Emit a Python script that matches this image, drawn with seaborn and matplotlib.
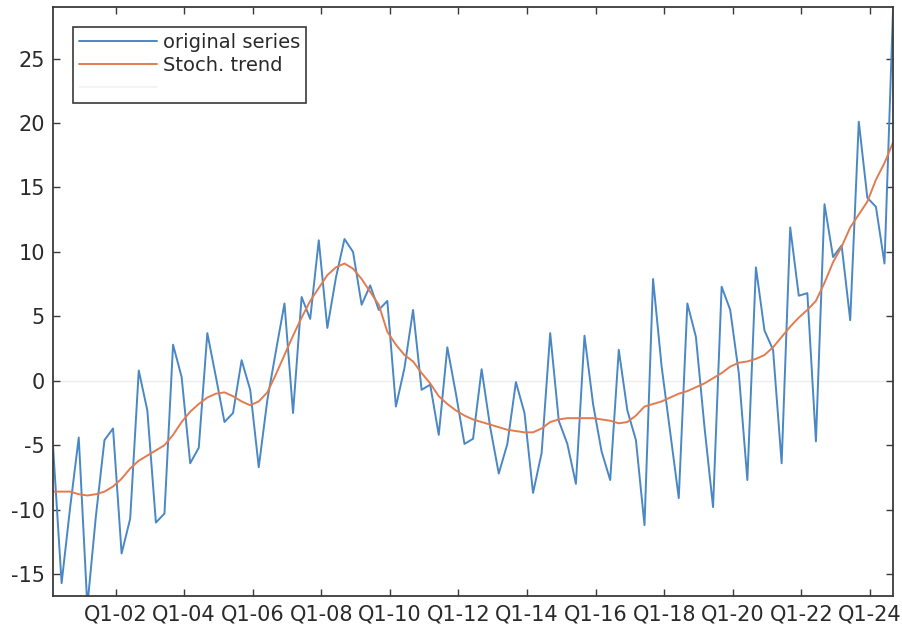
import numpy as np
import pandas as pd
import matplotlib
matplotlib.use("Agg")
import matplotlib.pyplot as plt
import seaborn as sns
from matplotlib.lines import Line2D

# ---- data (quarterly) ----
original_series = [
    -5.1, -15.7, -9.8, -4.4, -17.5, -10.5, -4.6, -3.7, -13.4, -10.7,
    0.8, -2.3, -11.0, -10.3, 2.8, 0.3, -6.4, -5.2, 3.7, 0.3,
    -3.2, -2.5, 1.6, -0.7, -6.7, -1.5, 2.3, 6.0, -2.5, 6.5,
    4.8, 10.9, 4.1, 8.0, 11.0, 10.0, 5.9, 7.4, 5.5, 6.2,
    -2.0, 1.0, 5.5, -0.7, -0.3, -4.2, 2.6, -1.0, -4.9, -4.5,
    0.9, -3.6, -7.2, -4.9, -0.1, -2.5, -8.7, -5.6, 3.7, -3.1,
    -4.9, -8.0, 3.5, -1.8, -5.5, -7.7, 2.4, -2.3, -4.6, -11.2,
    7.9, 1.1, -4.0, -9.1, 6.0, 3.4, -3.6, -9.8, 7.3, 5.5,
    0.6, -7.7, 8.8, 3.9, 2.4, -6.4, 11.9, 6.6, 6.8, -4.7,
    13.7, 9.6, 10.5, 4.7, 20.1, 14.2, 13.5, 9.1, 28.9,
]
stoch_trend = [
    -8.6, -8.6, -8.6, -8.8, -8.9, -8.8, -8.6, -8.2, -7.6, -6.8,
    -6.2, -5.8, -5.4, -5.0, -4.2, -3.2, -2.4, -1.8, -1.3, -1.0,
    -0.9, -1.2, -1.6, -1.9, -1.6, -0.9, 0.5, 2.0, 3.5, 4.9,
    6.2, 7.2, 8.2, 8.8, 9.1, 8.7, 7.9, 6.9, 5.9, 3.8,
    2.8, 2.0, 1.5, 0.6, -0.2, -1.2, -1.8, -2.3, -2.7, -3.0,
    -3.2, -3.4, -3.6, -3.8, -3.9, -4.0, -4.0, -3.7, -3.2, -3.0,
    -2.9, -2.9, -2.9, -2.9, -3.0, -3.1, -3.3, -3.2, -2.7, -2.0,
    -1.8, -1.6, -1.3, -1.0, -0.8, -0.5, -0.2, 0.2, 0.6, 1.1,
    1.4, 1.5, 1.7, 2.0, 2.6, 3.4, 4.2, 4.9, 5.5, 6.2,
    7.6, 9.2, 10.4, 11.9, 12.9, 13.9, 15.6, 16.9, 18.5,
]
tick_labels = ["Q1-02", "Q1-04", "Q1-06", "Q1-08", "Q1-10", "Q1-12",
               "Q1-14", "Q1-16", "Q1-18", "Q1-20", "Q1-22", "Q1-24"]
y_ticks = [-15, -10, -5, 0, 5, 10, 15, 20, 25]

quarter = np.arange(len(original_series))
df = pd.DataFrame({"quarter": quarter,
                   "original series": original_series,
                   "Stoch. trend": stoch_trend})

# ---- style ----
sns.set_style("white")
plt.rcParams["font.family"] = ["DejaVu Sans"]

fig = plt.figure(figsize=(9.02, 6.27), dpi=100)
ax = fig.add_axes([0.0588, 0.0494, 0.9313, 0.9394])

blue = "#4a87c5"
orange = "#e07c52"

ax.axhline(0, color="#eeeeee", lw=1.0, zorder=0)
sns.lineplot(data=df, x="quarter", y="original series", ax=ax,
             color=blue, lw=1.4, label="original series")
sns.lineplot(data=df, x="quarter", y="Stoch. trend", ax=ax,
             color=orange, lw=1.4, label="Stoch. trend")

ax.set_xlim(0, len(original_series) - 1)
ax.set_ylim(-16.7, 29.0)
ax.set_xlabel("")
ax.set_ylabel("")

tick_pos = 7.3 + 8 * np.arange(len(tick_labels))
ax.set_xticks(tick_pos)
ax.set_xticklabels(tick_labels)
ax.set_yticks(y_ticks)
ax.set_yticklabels([str(v) for v in y_ticks])

for s in ax.spines.values():
    s.set_visible(True)
    s.set_color("#3a3a3a")
    s.set_linewidth(1.3)

ax.tick_params(axis="both", which="major", direction="in", length=5,
               width=1.0, color="#3a3a3a", labelsize=15,
               labelcolor="#2a2a2a", top=True, right=True,
               bottom=True, left=True, pad=6)

# legend with a faint third row, as in the picture
handles, labels = ax.get_legend_handles_labels()
handles.append(Line2D([], [], color="#f3f3f3", lw=1.3))
labels.append(" ")
leg = ax.legend(handles, labels, loc="upper left",
                bbox_to_anchor=(0.024, 0.966), borderaxespad=0,
                frameon=True, fancybox=False, framealpha=1,
                edgecolor="#3a3a3a", fontsize=14, handlelength=4.0,
                handletextpad=0.3, labelspacing=0.2, borderpad=0.3)
leg.get_frame().set_linewidth(1.2)
for t in leg.get_texts():
    t.set_color("#2a2a2a")

fig.savefig("out.png", dpi=100)
